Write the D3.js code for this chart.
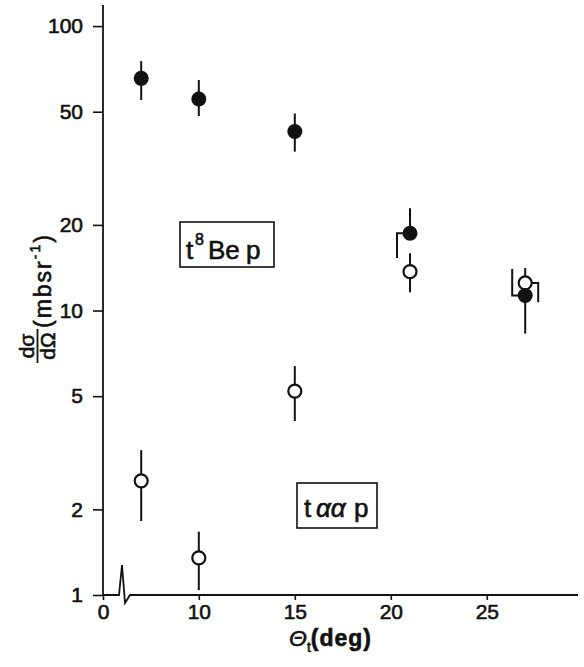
<!DOCTYPE html>
<html>
<head>
<meta charset="utf-8">
<script src="https://cdnjs.cloudflare.com/ajax/libs/d3/7.8.5/d3.min.js"></script>
<style>
    body { margin: 0; background: #fff; }
    svg { display: block; font-family: "Liberation Sans", Arial, sans-serif; }
    svg text { stroke: #111; stroke-width: 0.6px; }
</style>
</head>
<body>
<svg id="chart"></svg>
<script>
// scattering angles (deg)
const angles = [7, 10, 15, 21, 27];

// t 8Be p  (filled circles)
const bepValues = [65.5, 55.4, 42.6, 18.7, 11.3];
const bepLow    = [55.0, 48.3, 36.2, 15.3, 8.3];
const bepHigh   = [75.3, 64.6, 49.3, 22.9, 14.0];

// t alpha alpha p  (open circles)
const taapValues = [2.52, 1.35, 5.21, 13.7, 12.5];
const taapLow    = [1.82, 1.04, 4.09, 11.6, 10.7];
const taapHigh   = [3.23, 1.67, 6.38, 15.9, 14.1];

// error bars pushed sideways so they don't overlap (-1 left, 1 right)
const bepLowSide   = [0, 0, 0, -1, 0];
const bepHighSide  = [0, 0, 0, 0, -1];
const taapLowSide  = [0, 0, 0, 0, 1];
const taapHighSide = [0, 0, 0, 0, 0];

const xTicks = [0, 10, 15, 20, 25];
const yTicks = [1, 2, 5, 10, 20, 50, 100];

const W = 584, H = 667;
const margin = {top: 5, right: 6, bottom: 72, left: 103};
const w = W - margin.left - margin.right;
const h = H - margin.top - margin.bottom;
const ink = "#111";

const svg = d3.select("#chart")
    .attr("width", W)
    .attr("height", H);

const g = svg.append("g")
    .attr("transform", `translate(${margin.left},${margin.top})`);

// broken axis: 0 sits at the origin, the scale picks up again at 6 deg
const x = d3.scaleLinear()
    .domain([0, 6, 29.75])
    .range([0, 19, w]);

const y = d3.scaleLog()
    .domain([1, 118.6])
    .range([h, 0]);

// y axis
let yAxis = d3.axisLeft(y)
    .tickValues(yTicks)
    .tickFormat(d3.format("d"))
    .tickSize(10)
    .tickSizeOuter(0)
    .tickPadding(10);

let ya = g.append("g").call(yAxis);
ya.select(".domain").remove();
ya.selectAll("line").attr("stroke", ink).attr("stroke-width", 1.6);
ya.selectAll("text")
    .attr("font-size", 21)
    .attr("font-family", "Liberation Sans, Arial, sans-serif")
    .style("fill", ink);

g.append("line")
    .attr("x1", 0).attr("y1", 0)
    .attr("x2", 0).attr("y2", h)
    .attr("stroke", ink)
    .attr("stroke-width", 1.8);

// x axis
let xAxis = d3.axisBottom(x)
    .tickValues(xTicks)
    .tickSize(5)
    .tickSizeOuter(0)
    .tickPadding(4);

let xa = g.append("g")
    .attr("transform", `translate(0,${h})`)
    .call(xAxis);
xa.select(".domain").remove();
xa.selectAll("line").attr("stroke", ink).attr("stroke-width", 1.6);
xa.selectAll("text")
    .attr("font-size", 21)
    .attr("font-family", "Liberation Sans, Arial, sans-serif")
    .style("fill", ink);

// axis line with the break mark
let bx = x(6);
let p = d3.path();
p.moveTo(0, h);
p.lineTo(bx - 3, h);
p.lineTo(bx, h - 30);
p.lineTo(bx + 3, h + 8);
p.lineTo(bx + 8, h);
p.lineTo(w, h);
g.append("path")
    .attr("d", p.toString())
    .attr("fill", "none")
    .attr("stroke", ink)
    .attr("stroke-width", 1.8);

// error bars
const off = 13;
function errBar(cx, cy, ey, side){
    let d = d3.path();
    d.moveTo(cx, cy);
    if (side != 0) d.lineTo(cx + side*off, cy);
    d.lineTo(cx + side*off, ey);
    g.append("path")
        .attr("d", d.toString())
        .attr("fill", "none")
        .attr("stroke", ink)
        .attr("stroke-width", 2);
}

for (let i = 0; i < angles.length; i++){
    let cx = x(angles[i]);
    errBar(cx, y(bepValues[i]), y(bepHigh[i]), bepHighSide[i]);
    errBar(cx, y(bepValues[i]), y(bepLow[i]), bepLowSide[i]);
    errBar(cx, y(taapValues[i]), y(taapHigh[i]), taapHighSide[i]);
    errBar(cx, y(taapValues[i]), y(taapLow[i]), taapLowSide[i]);
}

// points
g.selectAll(".open")
    .data(angles)
    .enter()
    .append("circle")
    .attr("class", "open")
    .attr("cx", d => x(d))
    .attr("cy", (d, i) => y(taapValues[i]))
    .attr("r", 6.5)
    .attr("fill", "#fff")
    .attr("stroke", ink)
    .attr("stroke-width", 2.2);

g.selectAll(".full")
    .data(angles)
    .enter()
    .append("circle")
    .attr("class", "full")
    .attr("cx", d => x(d))
    .attr("cy", (d, i) => y(bepValues[i]))
    .attr("r", 7.5)
    .attr("fill", ink);

// boxed reaction labels
svg.append("rect")
    .attr("x", 180).attr("y", 222)
    .attr("width", 94).attr("height", 45)
    .attr("fill", "none")
    .attr("stroke", ink)
    .attr("stroke-width", 1.6);

let t1 = svg.append("text")
    .attr("y", 259)
    .attr("font-size", 26)
    .style("fill", ink);
t1.append("tspan").attr("x", 186).text("t");
t1.append("tspan").attr("x", 195).attr("dy", -14).attr("font-size", 16).text("8");
t1.append("tspan").attr("x", 208).attr("dy", 14).text("Be");
t1.append("tspan").attr("x", 246).text("p");

svg.append("rect")
    .attr("x", 297).attr("y", 483)
    .attr("width", 80).attr("height", 45)
    .attr("fill", "none")
    .attr("stroke", ink)
    .attr("stroke-width", 1.6);

let t2 = svg.append("text")
    .attr("y", 517)
    .attr("font-size", 26)
    .style("fill", ink);
t2.append("tspan").attr("x", 304).text("t");
t2.append("tspan").attr("x", 316).attr("font-style", "italic").text("αα");
t2.append("tspan").attr("x", 354).text("p");

// y label: d sigma / d Omega (mb sr^-1)
svg.append("text")
    .attr("transform", "translate(34,346) rotate(-90)")
    .attr("text-anchor", "middle")
    .attr("font-size", 21)
    .style("fill", ink)
    .text("dσ");

svg.append("line")
    .attr("x1", 37.5).attr("y1", 329)
    .attr("x2", 37.5).attr("y2", 363)
    .attr("stroke", ink)
    .attr("stroke-width", 1.8);

svg.append("text")
    .attr("transform", "translate(55,346) rotate(-90)")
    .attr("text-anchor", "middle")
    .attr("font-size", 21)
    .style("fill", ink)
    .text("dΩ");

let yl = svg.append("text")
    .attr("transform", "translate(51,328) rotate(-90)")
    .attr("font-size", 23)
    .attr("letter-spacing", 2)
    .style("fill", ink);
yl.append("tspan").text("(mbsr");
yl.append("tspan").attr("dy", -11).attr("font-size", 14).text("-1");
yl.append("tspan").attr("dy", 11).text(")");

// x label
let xl = svg.append("text")
    .attr("x", 289)
    .attr("y", 646)
    .attr("font-size", 23)
    .style("fill", ink);
xl.append("tspan").attr("font-style", "italic").text("Θ");
xl.append("tspan").attr("dy", 6).attr("font-size", 14).text("t");
xl.append("tspan").attr("dy", -6).attr("font-weight", "bold").attr("letter-spacing", 1).text("(deg)");
</script>
</body>
</html>
